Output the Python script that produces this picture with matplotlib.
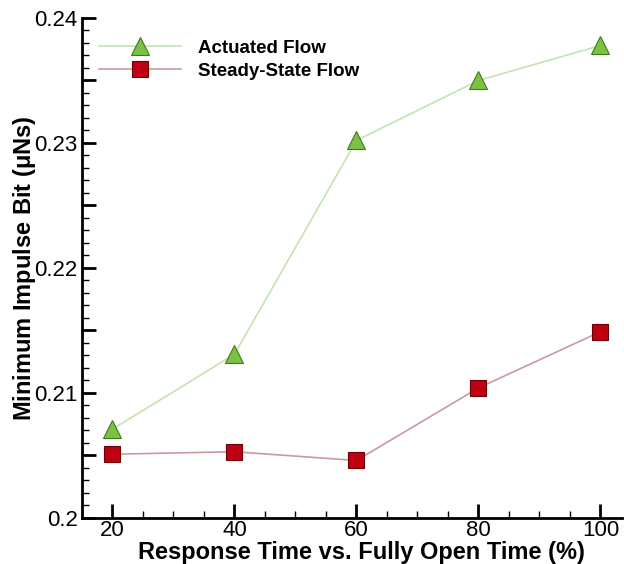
import matplotlib
matplotlib.use("Agg")
import matplotlib.pyplot as plt
from matplotlib.ticker import MultipleLocator, FuncFormatter

plt.rcParams['font.family'] = ['Liberation Sans', 'DejaVu Sans']

# data
response_pct = [20, 40, 60, 80, 100]
actuated_flow = [0.2071, 0.2131, 0.2302, 0.2350, 0.2378]
steady_flow = [0.2051, 0.2053, 0.2046, 0.2104, 0.2149]

fig = plt.figure(figsize=(6.24, 5.64), dpi=100)
ax = fig.add_axes([0.1314, 0.0816, 0.865, 0.8865])

ax.plot(response_pct, actuated_flow, color='#c4e3b0', linewidth=1.2,
        marker='^', markersize=13, markerfacecolor='#7cc242',
        markeredgecolor='#3d7a1e', markeredgewidth=0.8, label='Actuated Flow')
ax.plot(response_pct, steady_flow, color='#c99a9a', linewidth=1.2,
        marker='s', markersize=11, markerfacecolor='#c00010',
        markeredgecolor='#6a0008', markeredgewidth=0.8, label='Steady-State Flow')

ax.set_xlim(15, 103.5)
ax.set_ylim(0.2, 0.24)
ax.xaxis.set_major_locator(MultipleLocator(20))
ax.xaxis.set_minor_locator(MultipleLocator(5))
# long ticks every 0.005, labels only on every 0.01
ax.yaxis.set_major_locator(MultipleLocator(0.005))
ax.yaxis.set_minor_locator(MultipleLocator(0.001))


def ylab(v, pos):
    k = round(v * 1000)
    if k % 10:
        return ''
    return f'{v:.2f}'.rstrip('0')


ax.yaxis.set_major_formatter(FuncFormatter(ylab))

for s in ['top', 'right']:
    ax.spines[s].set_visible(False)
for s in ['left', 'bottom']:
    ax.spines[s].set_linewidth(2)

ax.tick_params(which='major', direction='in', length=10, width=2,
               labelsize=16, pad=3)
ax.tick_params(axis='x', which='major', pad=1.5)
ax.tick_params(which='minor', direction='in', length=5, width=1)

ax.set_xlabel('Response Time vs. Fully Open Time (%)', fontsize=17,
              fontweight='bold')
ax.set_ylabel(r'Minimum Impulse Bit ($\mathregular{\mu}$Ns)', fontsize=17,
              fontweight='bold')
ax.xaxis.set_label_coords(0.518, -0.047)
ax.yaxis.set_label_coords(-0.082, 0.5)

ax.legend(loc='upper left', bbox_to_anchor=(0.0, 0.99), frameon=False,
          handlelength=4.4, handletextpad=0.9, labelspacing=0.3,
          prop={'weight': 'bold', 'size': 13.5})

fig.savefig('out.png', dpi=100)
